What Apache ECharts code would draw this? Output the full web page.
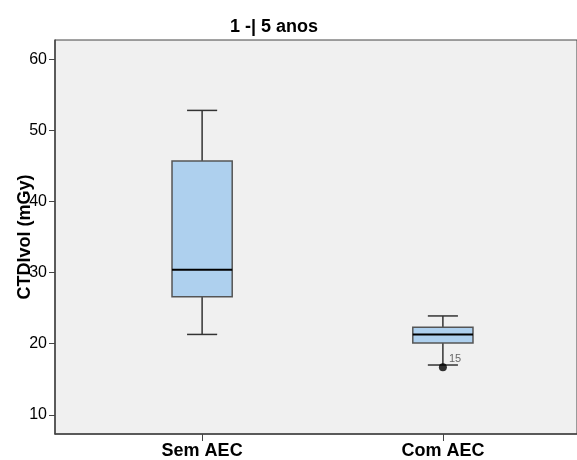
<!DOCTYPE html>
<html>
<head>
<meta charset="utf-8">
<script src="https://cdn.jsdelivr.net/npm/echarts@6/dist/echarts.min.js"></script>
<style>
    html, body { margin: 0; padding: 0; background: #fff; }
    #box { width: 577px; height: 460px; }
</style>
</head>
<body>
<div id="box"></div>
<script>
var categories = ['Sem AEC', 'Com AEC'];
var lowWhisker = [21.3, 17.0];
var q1 = [26.6, 20.1];
var median = [30.4, 21.3];
var q3 = [45.7, 22.3];
var highWhisker = [52.8, 23.9];
var outlierCat = [1];          // indice da categoria
var outlierValue = [16.7];
var outlierLabel = ['15'];
var yTicks = [10, 20, 30, 40, 50, 60];

var font = 'Liberation Sans, Arial, sans-serif';

var boxData = categories.map(function (c, i) {
    return [i + 1, lowWhisker[i], q1[i], median[i], q3[i], highWhisker[i]];
});
var outData = outlierCat.map(function (c, i) {
    return { value: [c + 1, outlierValue[i]], label: { formatter: outlierLabel[i] } };
});

var myChart = echarts.init(document.getElementById('box'));
var option = {
    animation: false,
    title: {
        text: '1 -| 5 anos',
        left: 225,
        top: 13,
        textStyle: { fontFamily: font, fontSize: 18, fontWeight: 'bold', color: '#000' }
    },
    grid: {
        left: 55, right: 0, top: 40, bottom: 26,
        outerBoundsMode: 'none',
        containLabel: false,
        show: true,
        backgroundColor: '#f0f0f0',
        borderColor: '#444',
        borderWidth: 1
    },
    xAxis: {
        type: 'value',
        min: 0.389,
        max: 2.557,
        splitLine: { show: false },
        axisLine: { show: true, lineStyle: { color: '#444', width: 1.5 } },
        axisTick: { show: true, length: 7, customValues: [1, 2], lineStyle: { color: '#444' } },
        axisLabel: {
            customValues: [1, 2],
            margin: 8,
            formatter: function (v) { return categories[Math.round(v) - 1]; },
            fontFamily: font, fontSize: 18, fontWeight: 'bold', color: '#000'
        }
    },
    yAxis: {
        type: 'value',
        min: 7.3,
        max: 62.7,
        name: 'CTDIvol (mGy)',
        nameLocation: 'middle',
        nameGap: 21,
        nameMoveOverlap: false,
        nameTextStyle: { fontFamily: font, fontSize: 18, fontWeight: 'bold', color: '#000' },
        splitLine: { show: false },
        axisLine: { show: true, lineStyle: { color: '#444', width: 1.5 } },
        axisTick: { show: true, length: 6, customValues: yTicks, lineStyle: { color: '#444' } },
        axisLabel: {
            customValues: yTicks,
            margin: 8,
            fontFamily: font, fontSize: 16, color: '#000'
        }
    },
    series: [
        {
            type: 'custom',
            data: boxData,
            renderItem: function (params, api) {
                var x = api.value(0);
                var w = api.size([1, 0])[0] * 0.25;
                var cap = w / 4;
                var pLow = api.coord([x, api.value(1)]);
                var pQ1 = api.coord([x, api.value(2)]);
                var pMed = api.coord([x, api.value(3)]);
                var pQ3 = api.coord([x, api.value(4)]);
                var pHigh = api.coord([x, api.value(5)]);
                var cx = pMed[0];
                var ln = { stroke: '#333', lineWidth: 1.5 };
                return {
                    type: 'group',
                    children: [
                        { type: 'line', shape: { x1: cx, y1: pHigh[1], x2: cx, y2: pQ3[1] }, style: ln },
                        { type: 'line', shape: { x1: cx, y1: pQ1[1], x2: cx, y2: pLow[1] }, style: ln },
                        { type: 'line', shape: { x1: cx - cap, y1: pHigh[1], x2: cx + cap, y2: pHigh[1] }, style: ln },
                        { type: 'line', shape: { x1: cx - cap, y1: pLow[1], x2: cx + cap, y2: pLow[1] }, style: ln },
                        {
                            type: 'rect',
                            shape: { x: cx - w / 2, y: pQ3[1], width: w, height: pQ1[1] - pQ3[1] },
                            style: { fill: '#aed0ee', stroke: '#555', lineWidth: 1.5 }
                        },
                        { type: 'line', shape: { x1: cx - w / 2, y1: pMed[1], x2: cx + w / 2, y2: pMed[1] }, style: { stroke: '#000', lineWidth: 2 } }
                    ]
                };
            }
        },
        {
            type: 'scatter',
            data: outData,
            symbol: 'circle',
            symbolSize: 8,
            itemStyle: { color: '#000' },
            label: {
                show: true,
                position: 'right',
                distance: 2,
                offset: [0, -8],
                fontFamily: font,
                fontSize: 11,
                color: '#444'
            }
        }
    ]
};
myChart.setOption(option, true);
</script>
</body>
</html>
